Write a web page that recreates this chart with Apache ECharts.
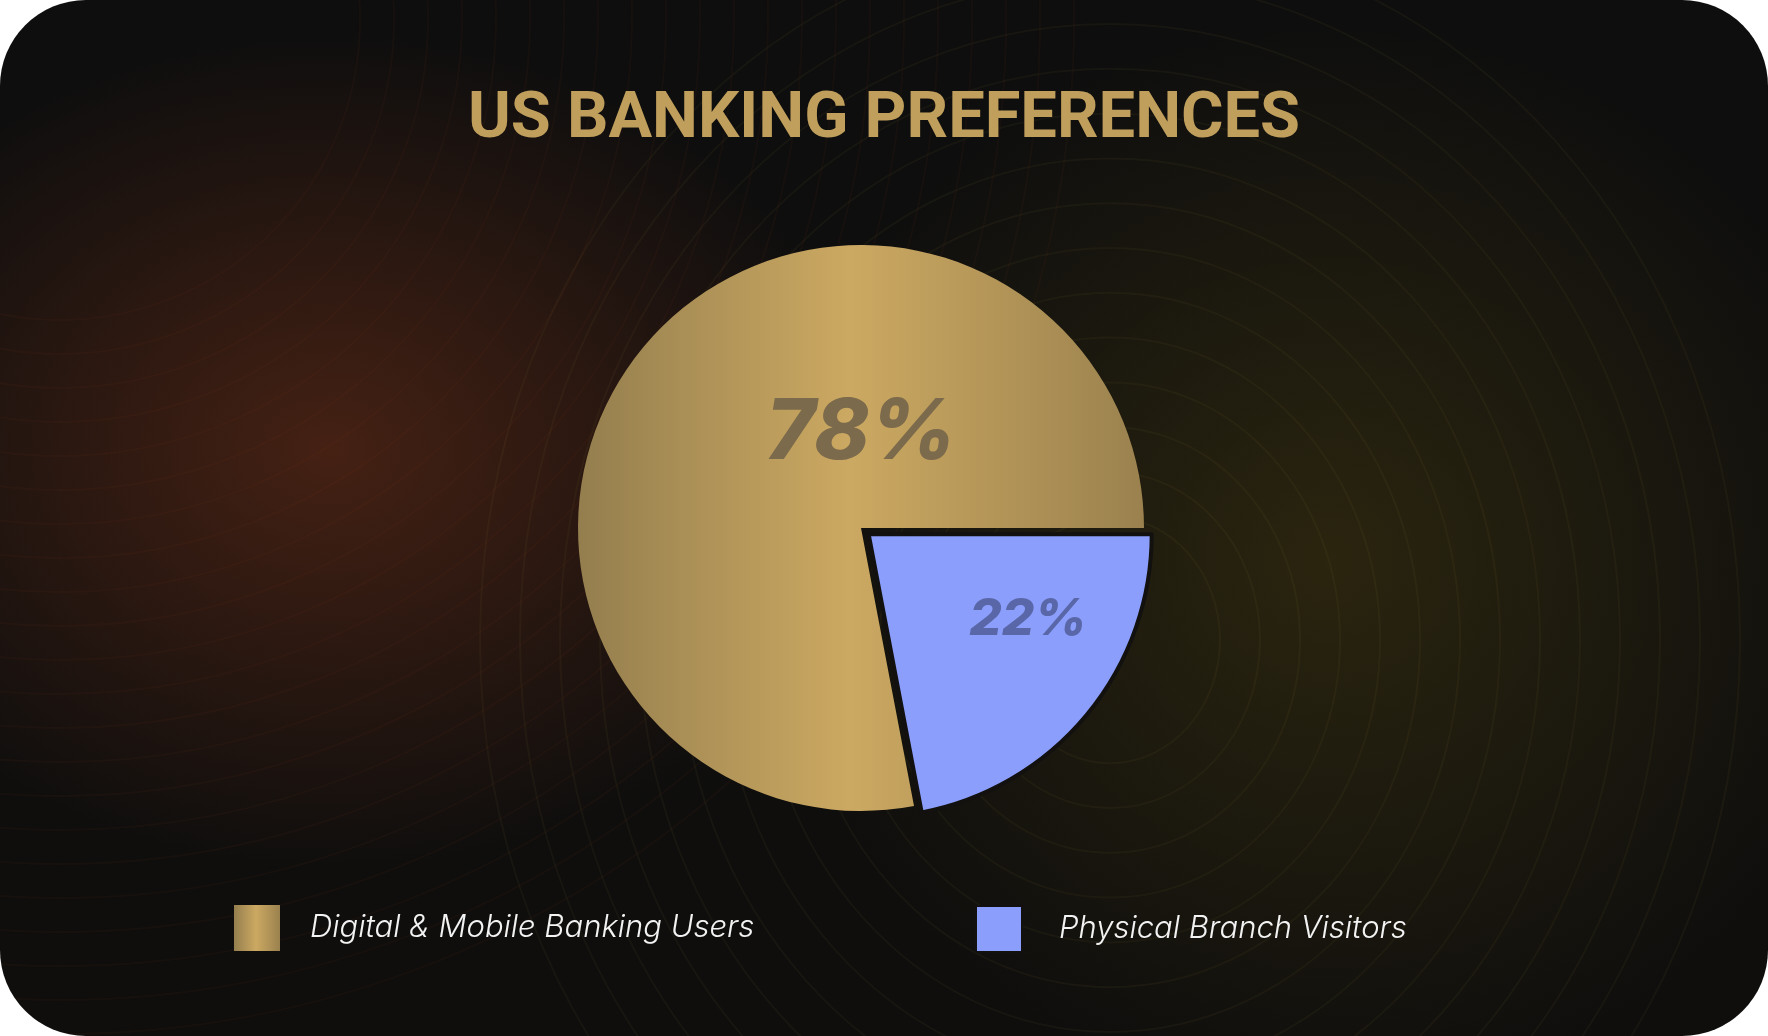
<!DOCTYPE html>
<html>
<head>
<meta charset="utf-8">
<script src="https://cdn.jsdelivr.net/npm/echarts@6/dist/echarts.min.js"></script>
<style>
  html, body { margin: 0; padding: 0; background: #ffffff; }
  #card {
    width: 1768px; height: 1036px; border-radius: 86px; overflow: hidden;
    background:
      radial-gradient(ellipse 540px 420px at 330px 450px, rgba(72,34,20,0.95), rgba(72,34,20,0) 100%),
      radial-gradient(ellipse 560px 540px at 1330px 560px, rgba(44,38,15,0.95), rgba(44,38,15,0) 100%),
      linear-gradient(180deg, #0e0e0e 0%, #0f0e0d 100%);
  }
  #chart { width: 1768px; height: 1036px; }
</style>
</head>
<body>
<div id="card"><div id="chart"></div></div>
<script>
// ---- data ----
const titleText = 'US BANKING PREFERENCES';
const categories = ['Digital & Mobile Banking Users', 'Physical Branch Visitors'];
const shares = [78, 22];

// ---- styles ----
const goldGradient = new echarts.graphic.LinearGradient(0, 0, 1, 0, [
  { offset: 0, color: '#947e4e' },
  { offset: 0.48, color: '#cca962' },
  { offset: 1, color: '#9a814e' }
]);
const blue = '#8b9efb';
const cx = 861, cy = 528, R = 283;
const labelOffsets = [[0, -94], [167, 92]];
const labelColors = ['#7b6a4b', '#5967a8'];
const labelSizes = [84, 51];

const total = shares.reduce((a, b) => a + b, 0);
const startAngle = -360 * shares[1] / total;

// decorative contour lines (background only)
const deco = [];
for (let i = 0; i < 14; i++) {
  const rx = 110 + i * 40;
  deco.push({
    type: 'ellipse', silent: true, z: -10,
    shape: { cx: 1110, cy: 640, rx: rx, ry: rx * 1.12 },
    style: { fill: null, stroke: 'rgba(190,160,70,0.055)', lineWidth: 2 }
  });
}
for (let i = 0; i < 22; i++) {
  const r = 300 + i * 34;
  deco.push({
    type: 'circle', silent: true, z: -10,
    shape: { cx: 60, cy: 20, r: r },
    style: { fill: null, stroke: 'rgba(150,70,40,0.06)', lineWidth: 2 }
  });
}

const legendText = { fontFamily: 'Inter', fontStyle: 'italic', fontWeight: 300, fontSize: 31, color: '#f3f3f3' };

const chart = echarts.init(document.getElementById('chart'), null, { renderer: 'canvas' });
chart.setOption({
  backgroundColor: 'transparent',
  animation: false,
  graphic: deco,
  title: {
    text: titleText,
    left: 'center',
    top: 88,
    padding: 0,
    textStyle: {
      fontFamily: 'Roboto', fontWeight: 700, fontSize: 65, color: '#c09f5c'
    }
  },
  legend: [
    {
      data: [categories[0]], left: 234, top: 905, padding: 0,
      itemWidth: 46, itemHeight: 46, icon: 'rect', selectedMode: false,
      textStyle: Object.assign({ padding: [0, 0, 0, 25] }, legendText)
    },
    {
      data: [categories[1]], left: 975, top: 905, padding: 0,
      itemWidth: 46, itemHeight: 46, icon: 'rect', selectedMode: false,
      textStyle: Object.assign({ padding: [0, 0, 0, 32] }, legendText)
    }
  ],
  series: [
    {
      // slices
      type: 'pie',
      center: [cx, cy],
      radius: R,
      startAngle: startAngle,
      clockwise: true,
      selectedMode: 'single',
      selectedOffset: 10,
      silent: true,
      emphasis: { disabled: true },
      label: { show: false },
      labelLine: { show: false },
      data: [
        {
          name: categories[0], value: shares[0],
          itemStyle: { color: goldGradient, borderWidth: 0 }
        },
        {
          name: categories[1], value: shares[1], selected: true,
          itemStyle: { color: blue, borderColor: '#121110', borderWidth: 4 },
          select: { itemStyle: { color: blue, borderColor: '#121110', borderWidth: 4 } }
        }
      ]
    },
    {
      // value labels (same data, transparent slices)
      type: 'pie',
      center: [cx, cy],
      radius: R,
      startAngle: startAngle,
      clockwise: true,
      selectedMode: false,
      silent: true,
      z: 5,
      emphasis: { disabled: true },
      itemStyle: { color: 'rgba(0,0,0,0)', borderWidth: 0 },
      label: {
        show: true,
        position: 'inside',
        formatter: '{c}%',
        fontFamily: 'Inter', fontStyle: 'italic', fontWeight: 800
      },
      labelLine: { show: false },
      labelLayout: function (p) {
        const o = labelOffsets[p.dataIndex];
        return { x: cx + o[0], y: cy + o[1], align: 'center', verticalAlign: 'middle' };
      },
      data: shares.map(function (v, i) {
        return {
          name: categories[i], value: v,
          label: { fontSize: labelSizes[i], color: labelColors[i] }
        };
      })
    }
  ]
});
</script>
</body>
</html>
